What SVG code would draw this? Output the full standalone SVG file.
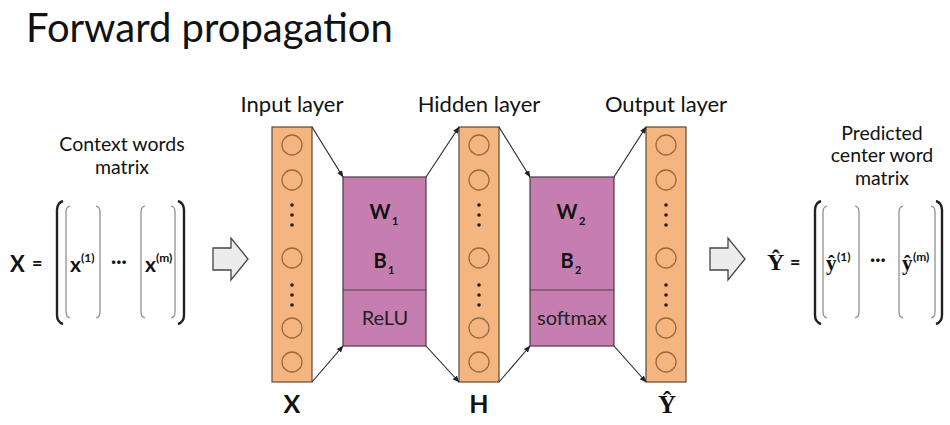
<svg xmlns="http://www.w3.org/2000/svg" width="950" height="425" viewBox="0 0 950 425">
<defs>
<marker id="ah" viewBox="0 0 10 10" refX="9" refY="5" markerWidth="7" markerHeight="7" orient="auto" markerUnits="userSpaceOnUse">
<path d="M0,1 L10,5 L0,9 Z" fill="#222"/>
</marker>
<style>
text{font-family:Lato,"Open Sans","Liberation Sans",sans-serif;fill:#111}
.title{font-size:40px}
.lbl{font-size:22px;text-anchor:middle}
.cap{font-size:19.5px;text-anchor:middle}
.col{fill:#F5B580;stroke:#5a4a3a;stroke-width:1.2}
.neu{fill:none;stroke:#9a6a3e;stroke-width:1.3}
.dot{fill:#222}
.box{fill:#C67EB0;stroke:#4a3a44;stroke-width:1.2}
.wb{font-size:20px;font-weight:bold;text-anchor:middle}
.sub{font-size:11px;font-weight:bold}
.fn{font-size:20px;text-anchor:middle;fill:#222}
.big{font-size:25px;font-weight:bold;text-anchor:middle}
.serif{font-family:"Liberation Serif","DejaVu Serif",serif}
.conn{stroke:#222;stroke-width:1.1;fill:none;marker-end:url(#ah)}
.bra{fill:none;stroke:#222;stroke-width:2.4}
.ibra{fill:none;stroke:#888;stroke-width:1.2}
.blk{fill:#ececec;stroke:#444;stroke-width:1.3}
.mx{font-size:22px;font-weight:bold}
.sup{font-size:12px;font-weight:bold}
</style>
</defs>

<text class="title" x="26" y="42">Forward propagation</text>

<g id="context-matrix">
<text class="cap" x="122" y="151">Context words</text>
<text class="cap" x="122" y="174">matrix</text>
<text class="mx" x="10" y="272">X</text>
<text class="mx" x="32" y="270" style="font-size:18px">=</text>
<path class="bra" d="M63,201 Q57,203 57,210 L57,315 Q57,322 63,324"/>
<path class="bra" d="M178,201 Q184,203 184,210 L184,315 Q184,322 178,324"/>
<path class="ibra" d="M70,206 Q66,207 66,212 L66,312 Q66,317 70,318"/>
<path class="ibra" d="M96,206 Q100,207 100,212 L100,312 Q100,317 96,318"/>
<path class="ibra" d="M145,206 Q141,207 141,212 L141,312 Q141,317 145,318"/>
<path class="ibra" d="M171,206 Q175,207 175,212 L175,312 Q175,317 171,318"/>
<text class="mx" x="70" y="272" style="font-size:21px">x</text>
<text class="sup" x="81" y="262">(1)</text>
<text x="111" y="268" style="font-size:19px;font-weight:bold">···</text>
<text class="mx" x="145" y="272" style="font-size:21px">x</text>
<text class="sup" x="156" y="262">(m)</text>
</g>

<g id="arrow-left">
<path class="blk" d="M213,248 L231,248 L231,238 L248,259 L231,280 L231,270 L213,270 Z"/>
</g>

<g id="input-layer">
<text class="lbl" x="292" y="112">Input layer</text>
<rect class="col" x="272" y="127" width="40" height="255"/>
<circle class="neu" cx="292" cy="145" r="10"/>
<circle class="neu" cx="292" cy="180" r="10"/>
<circle class="dot" cx="292" cy="205" r="1.8"/>
<circle class="dot" cx="292" cy="215" r="1.8"/>
<circle class="dot" cx="292" cy="225" r="1.8"/>
<circle class="neu" cx="292" cy="258" r="10"/>
<circle class="dot" cx="292" cy="285" r="1.8"/>
<circle class="dot" cx="292" cy="295" r="1.8"/>
<circle class="dot" cx="292" cy="305" r="1.8"/>
<circle class="neu" cx="292" cy="328" r="10"/>
<circle class="neu" cx="292" cy="362" r="10"/>
<text class="big" x="292" y="413">X</text>
</g>

<g id="weights1">
<rect class="box" x="343" y="177" width="83" height="169"/>
<line x1="343" y1="290" x2="426" y2="290" stroke="#4a3a44" stroke-width="1.2"/>
<text class="wb" x="380" y="219">W</text><text class="sub" x="392" y="225">1</text>
<text class="wb" x="380" y="268">B</text><text class="sub" x="388" y="274">1</text>
<text class="fn" x="385" y="325">ReLU</text>
</g>

<g id="hidden-layer">
<text class="lbl" x="479" y="112">Hidden layer</text>
<rect class="col" x="459" y="127" width="40" height="255"/>
<circle class="neu" cx="479" cy="145" r="10"/>
<circle class="neu" cx="479" cy="180" r="10"/>
<circle class="dot" cx="479" cy="205" r="1.8"/>
<circle class="dot" cx="479" cy="215" r="1.8"/>
<circle class="dot" cx="479" cy="225" r="1.8"/>
<circle class="neu" cx="479" cy="258" r="10"/>
<circle class="dot" cx="479" cy="285" r="1.8"/>
<circle class="dot" cx="479" cy="295" r="1.8"/>
<circle class="dot" cx="479" cy="305" r="1.8"/>
<circle class="neu" cx="479" cy="328" r="10"/>
<circle class="neu" cx="479" cy="362" r="10"/>
<text class="big" x="479" y="413">H</text>
</g>

<g id="weights2">
<rect class="box" x="530" y="177" width="84" height="169"/>
<line x1="530" y1="290" x2="614" y2="290" stroke="#4a3a44" stroke-width="1.2"/>
<text class="wb" x="567" y="219">W</text><text class="sub" x="579" y="225">2</text>
<text class="wb" x="567" y="268">B</text><text class="sub" x="575" y="274">2</text>
<text class="fn" x="572" y="325">softmax</text>
</g>

<g id="output-layer">
<text class="lbl" x="666" y="112">Output layer</text>
<rect class="col" x="646" y="127" width="40" height="255"/>
<circle class="neu" cx="666" cy="145" r="10"/>
<circle class="neu" cx="666" cy="180" r="10"/>
<circle class="dot" cx="666" cy="205" r="1.8"/>
<circle class="dot" cx="666" cy="215" r="1.8"/>
<circle class="dot" cx="666" cy="225" r="1.8"/>
<circle class="neu" cx="666" cy="258" r="10"/>
<circle class="dot" cx="666" cy="285" r="1.8"/>
<circle class="dot" cx="666" cy="295" r="1.8"/>
<circle class="dot" cx="666" cy="305" r="1.8"/>
<circle class="neu" cx="666" cy="328" r="10"/>
<circle class="neu" cx="666" cy="362" r="10"/>
<text class="big serif" x="667" y="413">Ŷ</text>
</g>

<g id="connectors">
<line class="conn" x1="312" y1="127" x2="343" y2="177"/>
<line class="conn" x1="312" y1="382" x2="343" y2="346"/>
<line class="conn" x1="426" y1="177" x2="459" y2="127"/>
<line class="conn" x1="426" y1="346" x2="459" y2="382"/>
<line class="conn" x1="499" y1="127" x2="530" y2="177"/>
<line class="conn" x1="499" y1="382" x2="530" y2="346"/>
<line class="conn" x1="614" y1="177" x2="646" y2="127"/>
<line class="conn" x1="614" y1="346" x2="646" y2="382"/>
</g>

<g id="arrow-right">
<path class="blk" d="M710,248 L728,248 L728,238 L745,259 L728,280 L728,270 L710,270 Z"/>
</g>

<g id="predicted-matrix">
<text class="cap" x="882" y="140">Predicted</text>
<text class="cap" x="882" y="162">center word</text>
<text class="cap" x="882" y="185">matrix</text>
<text class="mx serif" x="767" y="270" style="font-size:24px">Ŷ</text>
<text class="mx" x="790" y="269" style="font-size:18px">=</text>
<path class="bra" d="M821,201 Q815,203 815,210 L815,315 Q815,322 821,324"/>
<path class="bra" d="M936,201 Q942,203 942,210 L942,315 Q942,322 936,324"/>
<path class="ibra" d="M827,206 Q823,207 823,212 L823,312 Q823,317 827,318"/>
<path class="ibra" d="M855,206 Q859,207 859,212 L859,312 Q859,317 855,318"/>
<path class="ibra" d="M903,206 Q899,207 899,212 L899,312 Q899,317 903,318"/>
<path class="ibra" d="M931,206 Q935,207 935,212 L935,312 Q935,317 931,318"/>
<text class="mx serif" x="826" y="270" style="font-size:21px">ŷ</text>
<text class="sup" x="837" y="261">(1)</text>
<text x="870" y="266" style="font-size:19px;font-weight:bold">···</text>
<text class="mx serif" x="902" y="270" style="font-size:21px">ŷ</text>
<text class="sup" x="913" y="261">(m)</text>
</g>
</svg>
